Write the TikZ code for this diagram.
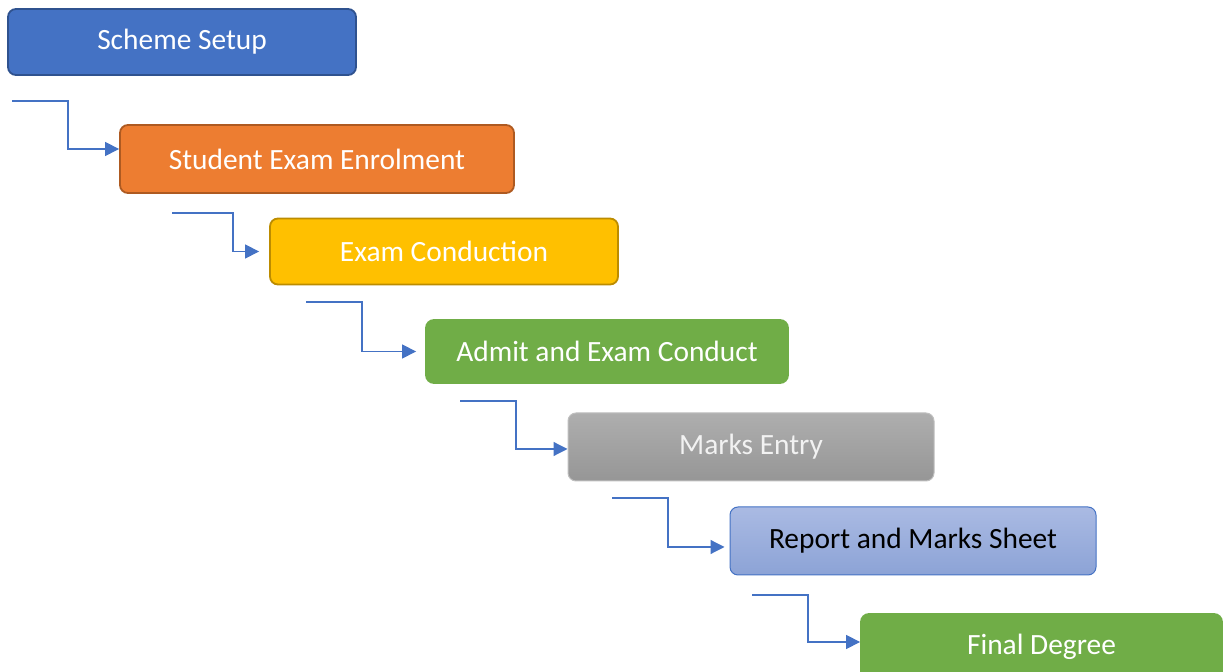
\documentclass[tikz,border=0pt]{standalone}
\usepackage{fontspec}
\setmainfont{Carlito}
\usetikzlibrary{arrows.meta}
\definecolor{setupblue}{HTML}{4472C4}
\definecolor{setupedge}{HTML}{2F528F}
\definecolor{enrolorange}{HTML}{ED7D31}
\definecolor{enroledge}{HTML}{AE5A21}
\definecolor{condgold}{HTML}{FFC000}
\definecolor{condedge}{HTML}{BC8C00}
\definecolor{admitgreen}{HTML}{70AD47}
\definecolor{marktop}{HTML}{AEAEAE}
\definecolor{markbot}{HTML}{969696}
\definecolor{marksedge}{HTML}{BFBFBF}
\definecolor{reporttop}{HTML}{AABAE3}
\definecolor{reportbot}{HTML}{8CA3D6}
\definecolor{flowline}{HTML}{4472C4}
\begin{document}
\begin{tikzpicture}[
    x=0.5pt,y=-0.5pt,>={Triangle[length=7pt,width=7pt]},
    stage/.style={rectangle,rounded corners=4pt,line width=0.9pt,
        minimum height=33pt,inner sep=0pt,text=white,
        font=\fontsize{14.7}{17}\selectfont},
    flow/.style={->,draw=flowline,line width=0.6pt}
]
 \useasboundingbox (0,0) rectangle (1232,672);

 \node[stage,fill=setupblue,draw=setupedge,minimum width=174pt] (setup) at (182,42) {Scheme Setup};
 \node[stage,fill=enrolorange,draw=enroledge,minimum width=197pt,minimum height=34pt] (enrol) at (317,159) {Student Exam Enrolment};
 \node[stage,fill=condgold,draw=condedge,minimum width=174pt] (cond) at (444,251.5) {Exam Conduction};
 \node[stage,fill=admitgreen,draw=admitgreen,minimum width=181pt,minimum height=31.5pt] (admit) at (607,351.5) {Admit and Exam Conduct};
 \node[stage,top color=marktop,bottom color=markbot,draw=marksedge,line width=0.5pt,
    minimum width=183pt,minimum height=34pt,text=white!95!black] (marks) at (751,447) {Marks Entry};
 \node[stage,top color=reporttop,bottom color=reportbot,draw=flowline,line width=0.5pt,
    minimum width=183pt,minimum height=34pt,text=black] (report) at (913,541) {Report and Marks Sheet};
 \node[stage,fill=admitgreen,draw=admitgreen,minimum width=180.5pt] (degree) at (1041.5,647) {Final Degree};

 % free starts of the flow lines
 \coordinate (f1) at (12,101);
 \coordinate (f2) at (172,213);
 \coordinate (f3) at (306,302);
 \coordinate (f4) at (460,401);
 \coordinate (f5) at (612,498);
 \coordinate (f6) at (752,595);

 \draw[flow] (f1) -- ++(56,0) |- ([yshift=5pt]enrol.west);
 \draw[flow,shorten >=5pt] (f2) -- ++(61,0) |- (cond.west);
 \draw[flow,shorten >=4.5pt] (f3) -- ++(56,0) |- (admit.west);
 \draw[flow] (f4) -- ++(56,0) |- ([yshift=-1pt]marks.west);
 \draw[flow,shorten >=2.5pt] (f5) -- ++(56,0) |- ([yshift=-3pt]report.west);
 \draw[flow] (f6) -- ++(56,0) |- ([yshift=2.5pt]degree.west);
\end{tikzpicture}
\end{document}
